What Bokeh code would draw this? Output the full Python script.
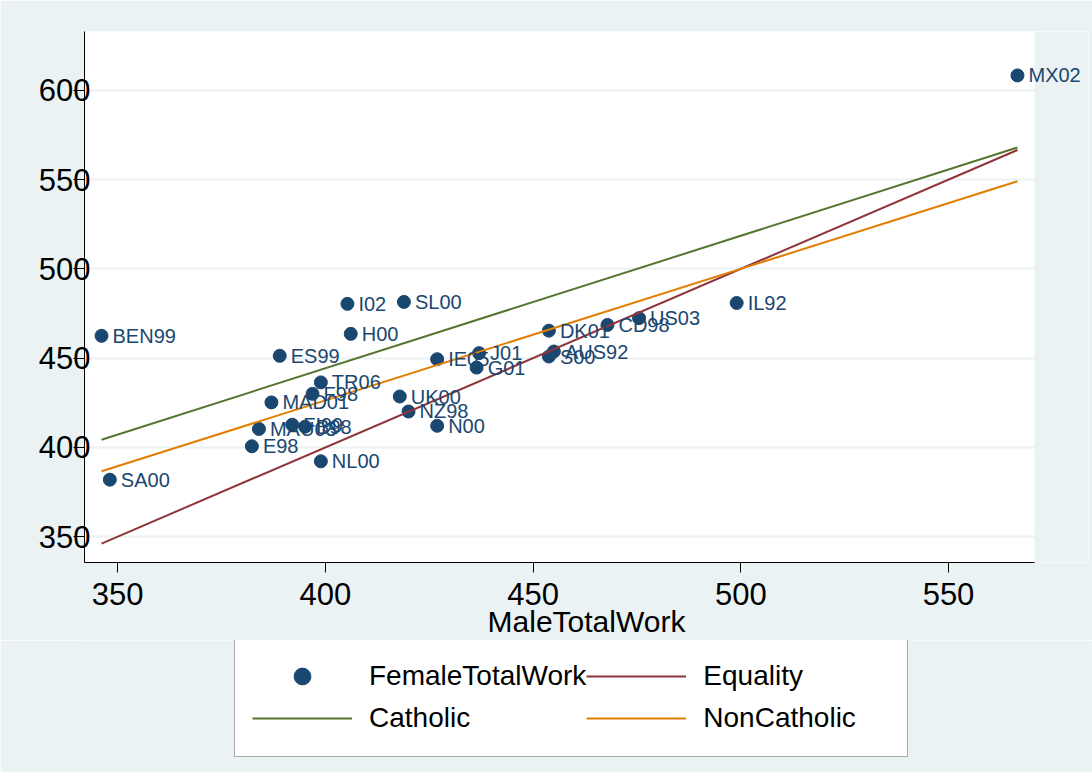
from bokeh.plotting import figure
from bokeh.layouts import column
from bokeh.models import (ColumnDataSource, LabelSet, Legend, LegendItem, Range1d,
                          FixedTicker, BoxAnnotation)
from bokeh.core.properties import value
from bokeh.embed import file_html
from bokeh.resources import INLINE

# ---- data ----
labels = ["MX02", "BEN99", "SA00", "E98", "MAU03", "FI99", "B98", "NL00", "ES99",
          "TR06", "F98", "MAD01", "I02", "SL00", "H00", "UK00", "NZ98", "N00",
          "IE05", "J01", "G01", "DK01", "AUS92", "S00", "CD98", "US03", "IL92"]
male_total_work = [566.6, 346.1, 348.1, 382.3, 384.0, 392.0, 395.1, 398.9, 389.0,
                   398.9, 396.9, 387.0, 405.3, 418.9, 406.1, 417.9, 420.0, 426.9,
                   426.9, 437.0, 436.4, 453.8, 455.0, 453.8, 467.9, 475.5, 499.0]
female_total_work = [608.4, 462.5, 381.9, 400.6, 410.3, 412.7, 411.6, 392.2, 451.3,
                     436.4, 430.0, 425.2, 480.4, 481.5, 463.6, 428.5, 420.1, 412.1,
                     449.4, 452.8, 444.7, 465.4, 453.7, 450.9, 468.6, 472.4, 480.9]

line_x = [346.1, 566.6]
equality_y = [346.1, 566.6]
catholic_y = [404.3, 568.0]
noncatholic_y = [386.6, 549.1]

x_ticks = [350, 400, 450, 500, 550]
y_ticks = [350, 400, 450, 500, 550, 600]

X_MIN, X_MAX = 342, 570.7        # plot region of the original graph
Y_MIN, Y_MAX = 335.5, 633

BG = "#EAF2F3"
NAVY = "#1A476F"
MAROON = "#90353B"
GREEN = "#55752F"
ORANGE = "#E37E00"
FONT = "Liberation Sans"

# frame extends past the plot region so the MX02 label is not clipped;
# the extra strip is painted with the background colour
x_end = X_MIN + (1088 - 84) / ((1034 - 84) / (X_MAX - X_MIN))

p = figure(width=1092, height=640, output_backend="svg", toolbar_location=None,
           x_range=Range1d(X_MIN, x_end), y_range=Range1d(Y_MIN, Y_MAX),
           min_border_left=84, min_border_right=4, min_border_top=31,
           min_border_bottom=77)
p.border_fill_color = BG
p.background_fill_color = "white"
p.outline_line_color = None

p.xgrid.grid_line_color = None
p.ygrid.grid_line_color = BG
p.ygrid.grid_line_width = 2

p.add_layout(BoxAnnotation(left=X_MAX, fill_color=BG, fill_alpha=1.0,
                           line_color=None, level="underlay"))

src = ColumnDataSource(dict(x=male_total_work, y=female_total_work, lab=labels))
p.scatter("x", "y", source=src, size=13, color=NAVY)

lsrc = ColumnDataSource(dict(x=line_x, eq=equality_y, cat=catholic_y, non=noncatholic_y))
p.line("x", "eq", source=lsrc, color=MAROON, line_width=2)
p.line("x", "cat", source=lsrc, color=GREEN, line_width=2)
p.line("x", "non", source=lsrc, color=ORANGE, line_width=2)

p.add_layout(LabelSet(x="x", y="y", text="lab", source=src, x_offset=11,
                      text_baseline="middle", text_font=value(FONT),
                      text_font_size=value("20px"), text_color=NAVY))

# axes
p.xaxis.ticker = FixedTicker(ticks=x_ticks)
p.yaxis.ticker = FixedTicker(ticks=y_ticks)
p.xaxis.bounds = (X_MIN, X_MAX)
for ax in (p.xaxis[0], p.yaxis[0]):
    ax.axis_line_color = "black"
    ax.major_tick_line_color = "black"
    ax.minor_tick_line_color = None
    ax.major_tick_in = 0
    ax.major_label_text_font = FONT
    ax.major_label_text_font_size = "31px"
    ax.major_label_text_color = "black"
p.xaxis.major_tick_out = 10
p.yaxis.major_tick_out = 11
p.xaxis.major_label_standoff = 10
p.yaxis.major_label_standoff = -17
p.xaxis.axis_label = "MaleTotalWork"
p.xaxis.axis_label_text_font = FONT
p.xaxis.axis_label_text_font_size = "30px"
p.xaxis.axis_label_text_font_style = "normal"
p.xaxis.axis_label_text_color = "black"
p.xaxis.axis_label_standoff = -3

# ---- legend strip (Stata style, two columns) ----
# the legend renderers reuse the chart's sources; the strip's ranges keep
# them out of view so only the legend swatches show
lg = figure(width=1092, height=132, output_backend="svg", toolbar_location=None,
            x_range=Range1d(0, 1), y_range=Range1d(0, 1), min_border=0,
            x_axis_location=None, y_axis_location=None)
lg.grid.grid_line_color = None
lg.outline_line_color = None
lg.border_fill_color = BG
lg.background_fill_color = BG

r_pts = lg.scatter("x", "y", source=src, size=13, color=NAVY)
r_eq = lg.line("x", "eq", source=lsrc, color=MAROON, line_width=2)
r_cat = lg.line("x", "cat", source=lsrc, color=GREEN, line_width=2)
r_non = lg.line("x", "non", source=lsrc, color=ORANGE, line_width=2)

legend = Legend(items=[LegendItem(label="FemaleTotalWork", renderers=[r_pts]),
                       LegendItem(label="Catholic", renderers=[r_cat]),
                       LegendItem(label="Equality", renderers=[r_eq]),
                       LegendItem(label="NonCatholic", renderers=[r_non])],
                orientation="vertical", ncols=2,
                location=(150, 15), glyph_width=100, glyph_height=42,
                label_standoff=17, padding=17, spacing=0, label_height=42,
                label_width=187, margin=0,
                label_text_font=FONT, label_text_font_size="28px",
                label_text_color="black",
                border_line_color="#555555", border_line_width=1.5,
                background_fill_color="white", background_fill_alpha=1.0)
lg.add_layout(legend, "center")

page = column(p, lg, spacing=0)
open("out.html", "w").write(file_html(page, INLINE))
